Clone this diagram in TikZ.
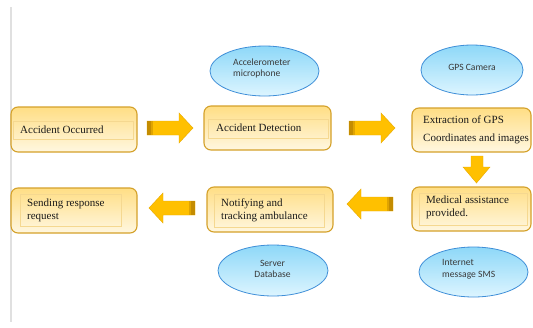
\documentclass[tikz,border=0pt]{standalone}
\usepackage{fontspec}
\setmainfont{Liberation Serif}
\newfontfamily\sansf{Carlito}
\usetikzlibrary{shapes.geometric}
\definecolor{boxborder}{HTML}{D4A12A}
\definecolor{boxtop}{HTML}{FFDE85}
\definecolor{boxbot}{HTML}{FFF7E0}
\definecolor{innerline}{HTML}{F5D890}
\definecolor{agold}{HTML}{FFC000}
\definecolor{aedge}{HTML}{E8AA00}
\definecolor{adark}{HTML}{C48C00}
\definecolor{amid}{HTML}{E0A400}
\definecolor{ell}{HTML}{3F8FD8}
\definecolor{elltop}{HTML}{8ED8F8}
\definecolor{ellbot}{HTML}{DDF5FF}
\definecolor{txt}{HTML}{1A1A1A}
\definecolor{etxt}{HTML}{3A3A3A}
\tikzset{
  stepbox/.style={draw=boxborder, line width=1.1pt, rounded corners=7pt,
    top color=boxtop, bottom color=boxbot, inner sep=0pt},
  innerbox/.style={draw=innerline, line width=0.6pt, inner sep=0pt},
  stepbox text/.style={anchor=west, align=left, inner sep=0pt, text=txt,
    font=\fontsize{11}{13}\selectfont},
  sensor/.style={ellipse, draw=ell, line width=0.8pt, top color=elltop,
    bottom color=ellbot, minimum width=109pt, minimum height=50pt, inner sep=0pt},
  sensor text/.style={inner sep=0pt, text=etxt, align=left,
    font=\sansf\fontsize{9.6}{11.8}\selectfont},
  barrow/.pic={
    \fill[agold, draw=aedge, line width=0.4pt] (0,-7) -- (32,-7) -- (32,-15) -- (46,0)
      -- (32,15) -- (32,7) -- (0,7) -- cycle;
    \fill[adark] (0,-7) rectangle (4,7);
    \fill[amid] (4,-7) rectangle (6,7);
  }
}
\begin{document}
\begin{tikzpicture}[x=1pt,y=-1pt]
\useasboundingbox (0,0) rectangle (533,327);
\fill[white] (0,0) rectangle (533,327);
% left rule
\draw[black!12, line width=1.5pt] (11,7) -- (11,322);

% boxes
\node[stepbox, minimum width=126pt, minimum height=45pt] (occ) at (74,129.5) {};
\node[innerbox, minimum width=120pt, minimum height=18pt] (occ-in) at (73,130) {};
\node[stepbox text] (occ-t) at (20,130) {Accident Occurred};

\node[stepbox, minimum width=127pt, minimum height=44pt] (det) at (267.5,128) {};
\node[innerbox, minimum width=120pt, minimum height=19pt] (det-in) at (268,128.5) {};
\node[stepbox text] (det-t) at (216,128) {Accident Detection};

\node[stepbox, minimum width=119pt, minimum height=44pt] (ext) at (471.5,130) {};
\node[stepbox text, font=\fontsize{11}{18}\selectfont] (ext-t) at (423,130) {Extraction of GPS\\Coordinates and images};

\node[stepbox, minimum width=119pt, minimum height=44pt] (med) at (471.5,209) {};
\node[innerbox, minimum width=108pt, minimum height=32pt] (med-in) at (473,209) {};
\node[stepbox text] (med-t) at (426,207) {Medical assistance\\provided.};

\node[stepbox, minimum width=126pt, minimum height=45pt] (noti) at (270,209.5) {};
\node[innerbox, minimum width=110pt, minimum height=33pt] (noti-in) at (269,210.5) {};
\node[stepbox text] (noti-t) at (221,210.5) {Notifying and\\tracking ambulance};

\node[stepbox, minimum width=126pt, minimum height=45pt] (send) at (74,210.5) {};
\node[innerbox, minimum width=101pt, minimum height=32pt] (send-in) at (70.5,210) {};
\node[stepbox text] (send-t) at (27,210.5) {Sending response\\request};

% sensors
\node[sensor] (acc) at (264.5,71) {};
\node[sensor text, anchor=west] (acc-t) at (233,68.5) {Accelerometer\\microphone};
\node[sensor, minimum width=102pt] (gps) at (472,70) {};
\node[sensor text] (gps-t) at (472,67) {GPS Camera};
\node[sensor, minimum width=110pt, minimum height=51pt] (srv) at (273,270.5) {};
\node[sensor text, align=center] (srv-t) at (272.5,269) {Server\\Database};
\node[sensor] (net) at (473.5,272) {};
\node[sensor text, anchor=west] (net-t) at (442,269.5) {Internet\\message SMS};

% block arrows
\pic at (147,128) {barrow};
\pic at (349,128) {barrow};
\pic[rotate=180] at (393,204) {barrow};
\pic[rotate=180] at (195,208) {barrow};
\fill[agold, draw=aedge, line width=0.4pt] (471,156) -- (483,156) -- (483,167) -- (490,167)
  -- (476.5,183) -- (463,167) -- (471,167) -- cycle;
\end{tikzpicture}
\end{document}
